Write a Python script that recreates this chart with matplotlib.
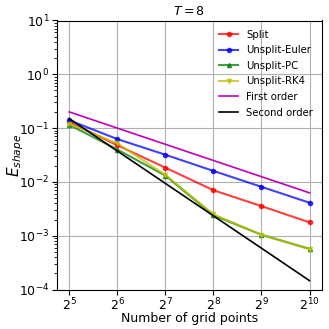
import numpy as np
import matplotlib
matplotlib.use("Agg")
from matplotlib import pyplot as plt

# grid sizes and errors
n = [2**5, 2**6, 2**7, 2**8, 2**9, 2**10]
split = [0.13, 0.048, 0.0184, 0.0070, 0.00355, 0.00177]
unsplit_euler = [0.14, 0.0625, 0.032, 0.016, 0.0081, 0.0041]
unsplit_pc = [0.115, 0.040, 0.0131, 0.0024, 0.00104, 0.00057]
unsplit_rk4 = [0.12, 0.052, 0.0135, 0.0025, 0.00104, 0.00056]
first_order = [0.2, 0.1, 0.05, 0.025, 0.0125, 0.00625]
second_order = [0.15, 0.0375, 0.009375, 0.00234, 0.000586, 0.000146]

fig = plt.figure(figsize=(3.29, 3.29), dpi=100)
ax = fig.add_axes([57/329, 1-289.5/329, 265/329, 269/329])

ax.plot(n, split, 'r-o', ms=3, alpha=0.75, label='Split')
ax.plot(n, unsplit_euler, 'b-o', ms=3, alpha=0.75, label='Unsplit-Euler')
ax.plot(n, unsplit_pc, 'g-^', ms=3, alpha=0.75, label='Unsplit-PC')
ax.plot(n, unsplit_rk4, 'y-v', ms=3, alpha=0.75, label='Unsplit-RK4')
ax.plot(n, first_order, 'm-', lw=1.2, label='First order')
ax.plot(n, second_order, 'k-', lw=1.2, label='Second order')

ax.set_xscale('log', base=2)
ax.set_yscale('log')
ax.set_xlim(2**4.745, 2**10.26)
ax.set_ylim(1e-4, 1e1)
ax.set_xticks(n)
ax.grid(True, color='#b0b0b0', lw=0.8)
ax.tick_params(labelsize=9, pad=2)
ax.set_xlabel('Number of grid points', fontsize=9, labelpad=-1)
ax.set_ylabel('$E_{shape}$', fontsize=11, labelpad=-5)
ax.set_title('$T = 8$', fontsize=9, pad=4)
ax.legend(fontsize=7.3, frameon=False, loc='upper right', handlelength=1.9,
          handletextpad=0.75, labelspacing=0.55, borderaxespad=0.5)

fig.savefig('out.png', dpi=100)
